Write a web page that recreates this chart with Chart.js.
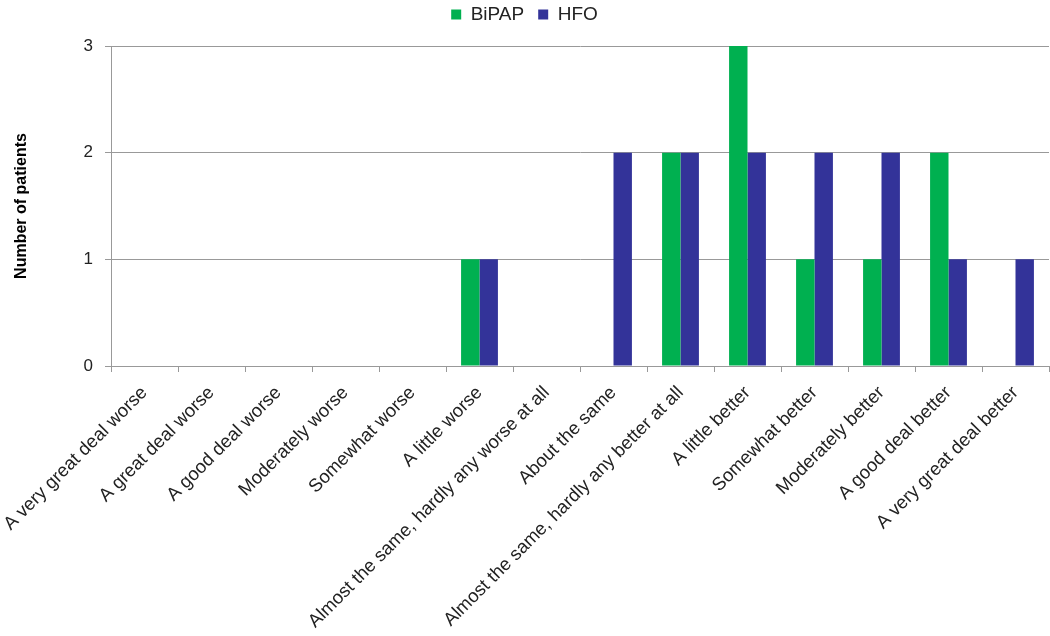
<!DOCTYPE html>
<html>
<head>
<meta charset="utf-8">
<script src="https://cdn.jsdelivr.net/npm/chart.js@4.4.0/dist/chart.umd.min.js"></script>
<style>
html,body{margin:0;padding:0;background:#fff;}
#wrap{width:1050px;height:636px;position:relative;}
</style>
</head>
<body>
<div id="wrap"><canvas id="c" width="1050" height="636"></canvas></div>
<script>
const categories = [
  "A very great deal worse",
  "A great deal worse",
  "A good deal worse",
  "Moderately worse",
  "Somewhat worse",
  "A little worse",
  "Almost the same, hardly any worse at all",
  "About the same",
  "Almost the same, hardly any better at all",
  "A little better",
  "Somewhat better",
  "Moderately better",
  "A good deal better",
  "A very great deal better"
];
const bipap = [0,0,0,0,0,1,0,0,2,3,1,1,2,0];
const hfo   = [0,0,0,0,0,1,0,2,2,2,2,2,1,1];
const yTicks = [0,1,2,3];

const FONT = "'Liberation Sans', Arial, sans-serif";
Chart.defaults.font.family = FONT;
Chart.defaults.color = '#222';

const legendGap = {
  id: 'legendGap',
  beforeInit(chart) {
    const lg = chart.legend;
    if (!lg) return;
    const orig = lg.fit;
    lg.fit = function () { orig.call(this); this.height += 12; };
  }
};

new Chart(document.getElementById('c'), {
  type: 'bar',
  data: {
    labels: categories,
    datasets: [
      {label: 'BiPAP', data: bipap, backgroundColor: '#00B050', borderWidth: 0},
      {label: 'HFO', data: hfo, backgroundColor: '#333399', borderWidth: 0}
    ]
  },
  plugins: [legendGap],
  options: {
    responsive: false,
    animation: false,
    layout: {padding: {top: -9, right: 1, bottom: 0, left: 0}},
    datasets: {bar: {categoryPercentage: 0.55, barPercentage: 1.0}},
    plugins: {
      legend: {
        position: 'top',
        labels: {
          usePointStyle: true, pointStyle: 'rect', boxWidth: 10, boxHeight: 10,
          font: {size: 19, family: FONT}, color: '#222', padding: 14
        }
      },
      tooltip: {enabled: false}
    },
    scales: {
      x: {
        grid: {display: true, drawOnChartArea: false, drawTicks: true, tickLength: 6, color: '#999', offset: true},
        border: {display: true, color: '#999', width: 1},
        ticks: {minRotation: 45, maxRotation: 45, autoSkip: false, font: {size: 18.5}, color: '#222', padding: 10},
        afterFit: s => { s.height = 270; s.paddingLeft = 0; s.paddingRight = 0; }
      },
      y: {
        min: 0, max: 3,
        afterBuildTicks: s => { s.ticks = yTicks.map(v => ({value: v})); },
        grid: {color: '#999', tickLength: 6, drawTicks: true},
        border: {display: true, color: '#999', width: 1},
        ticks: {font: {size: 17}, color: '#222', padding: 12},
        title: {display: true, text: 'Number of patients', font: {size: 16, weight: 'bold'}, color: '#000', padding: {top: 12, bottom: 0}},
        afterFit: s => { s.width = 111; }
      }
    }
  }
});
</script>
</body>
</html>
